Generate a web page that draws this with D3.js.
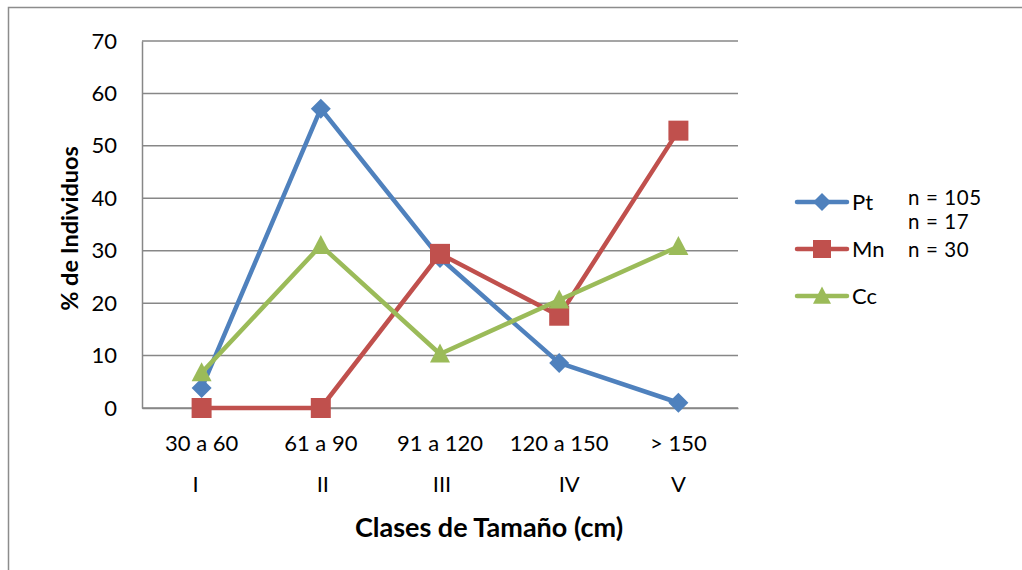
<!DOCTYPE html>
<html>
<head>
<meta charset="utf-8">
<script src="https://cdn.jsdelivr.net/npm/d3@7"></script>
<style>
  body { margin: 0; background: #fff; }
  svg text { font-family: Lato, "Open Sans", sans-serif; fill: #000; }
</style>
</head>
<body>
<div class="chart"></div>
<script>
// DATA ------------------------------**
const categories = ['30 a 60', '61 a 90', '91 a 120', '120 a 150', '> 150'];
const romans = ['I', 'II', 'III', 'IV', 'V'];
const seriesNames = ['Pt', 'Mn', 'Cc'];
const ptValues = [3.8, 57.1, 28.6, 8.6, 1.0];
const mnValues = [0, 0, 29.4, 17.6, 52.9];
const ccValues = [6.7, 31.0, 10.3, 20.6, 30.8];
const sampleSizes = ['n = 105', 'n = 17', 'n = 30'];
const yTicks = [0, 10, 20, 30, 40, 50, 60, 70];

const colors = ['#4F81BD', '#C0504D', '#9BBB59'];
const series = [ptValues, mnValues, ccValues];

// CHART INIT ------------------------------**
const margin = {top: 41, right: 284, bottom: 162, left: 142};
const width = 1022 - margin.left - margin.right;
const height = 570 - margin.top - margin.bottom;

const root = d3.select('.chart').append('svg')
    .attr('width', 1022)
    .attr('height', 570);

// outer chart border (left + top visible)
root.append('path')
    .attr('d', 'M8.5,575 V7.5 H1030')
    .attr('fill', 'none')
    .attr('stroke', '#8c8c8c')
    .attr('stroke-width', 1.5);

const svg = root.append('g')
    .attr('transform', 'translate(' + margin.left + ',' + margin.top + ')');

let xScale = d3.scaleBand()
    .domain(categories)
    .range([0, width]);

let yScale = d3.scaleLinear()
    .domain([0, 70])
    .range([height, 0]);

// gridlines
svg.selectAll('.grid')
    .data(yTicks)
    .enter()
    .append('line')
    .attr('class', 'grid')
    .attr('x1', 0)
    .attr('x2', width)
    .attr('y1', d => yScale(d))
    .attr('y2', d => yScale(d))
    .attr('stroke', '#878787')
    .attr('stroke-width', 1.5);

// y axis
let yAxis = d3.axisLeft(yScale)
    .tickValues(yTicks)
    .tickSize(0)
    .tickPadding(25);

let yAxisGroup = svg.append('g')
    .attr('class', 'axis y-axis')
    .call(yAxis);
yAxisGroup.select('.domain')
    .attr('stroke', '#878787')
    .attr('stroke-width', 1.5);
yAxisGroup.selectAll('text')
    .attr('font-size', 22)
    .attr('font-family', 'Lato, sans-serif');

// x axis (category labels)
let xAxis = d3.axisBottom(xScale)
    .tickSize(0)
    .tickPadding(27);

let xAxisGroup = svg.append('g')
    .attr('class', 'axis x-axis')
    .attr('transform', 'translate(0,' + height + ')')
    .call(xAxis);
xAxisGroup.select('.domain')
    .attr('stroke', '#878787')
    .attr('stroke-width', 1.5);
xAxisGroup.selectAll('text')
    .attr('font-size', 22)
    .attr('font-family', 'Lato, sans-serif');

// roman numerals (second label row, slightly shifted like the original)
const romanShift = [-6, 2, 2, 10, 0];
svg.selectAll('.roman')
    .data(romans)
    .enter()
    .append('text')
    .attr('class', 'roman')
    .attr('x', (d, i) => xScale(categories[i]) + xScale.bandwidth() / 2 + romanShift[i])
    .attr('y', height + 84)
    .attr('text-anchor', 'middle')
    .attr('font-size', 22)
    .text(d => d);

// axis titles
svg.append('text')
    .attr('x', width / 2 + 49)
    .attr('y', height + 129)
    .attr('text-anchor', 'middle')
    .attr('font-size', 27)
    .attr('font-weight', 'bold')
    .text('Clases de Tamaño (cm)');

svg.append('text')
    .attr('transform', 'translate(-64,' + (height / 2 + 4) + ') rotate(-90)')
    .attr('text-anchor', 'middle')
    .attr('font-size', 23.5)
    .attr('font-weight', 'bold')
    .text('% de Individuos');

// lines + markers
const line = d3.line()
    .x((d, i) => xScale(categories[i]) + xScale.bandwidth() / 2)
    .y(d => yScale(d));

function marker(i) {
    if (i === 0) return 'M0,-10L10,0L0,10L-10,0Z';
    if (i === 1) return 'M-10,-10H10V10H-10Z';
    return 'M0,-10.5L10,8.5L-10,8.5Z';
}

series.forEach((vals, s) => {
    svg.append('path')
        .datum(vals)
        .attr('fill', 'none')
        .attr('stroke', colors[s])
        .attr('stroke-width', 4.5)
        .attr('stroke-linejoin', 'round')
        .attr('d', line);

    svg.selectAll('.mk' + s)
        .data(vals)
        .enter()
        .append('path')
        .attr('class', 'mk' + s)
        .attr('transform', (d, i) => 'translate(' + (xScale(categories[i]) + xScale.bandwidth() / 2) + ',' + yScale(d) + ')')
        .attr('d', marker(s))
        .attr('fill', colors[s]);
});

// legend
const legendY = [202, 249, 296];
const legend = root.append('g');
seriesNames.forEach((name, s) => {
    legend.append('line')
        .attr('x1', 797).attr('x2', 847)
        .attr('y1', legendY[s]).attr('y2', legendY[s])
        .attr('stroke', colors[s])
        .attr('stroke-width', 4.5)
        .attr('stroke-linecap', 'round');
    legend.append('path')
        .attr('transform', 'translate(822,' + legendY[s] + ') scale(0.9)')
        .attr('d', marker(s))
        .attr('fill', colors[s]);
    legend.append('text')
        .attr('x', 852)
        .attr('y', legendY[s] + 7.5)
        .attr('font-size', 22)
        .text(name);
});

const nBaseline = [205, 229, 257];
sampleSizes.forEach((t, i) => {
    legend.append('text')
        .attr('x', 908)
        .attr('y', nBaseline[i])
        .attr('font-size', 20.5)
        .attr('letter-spacing', 0.6)
        .text(t);
});
</script>
</body>
</html>
